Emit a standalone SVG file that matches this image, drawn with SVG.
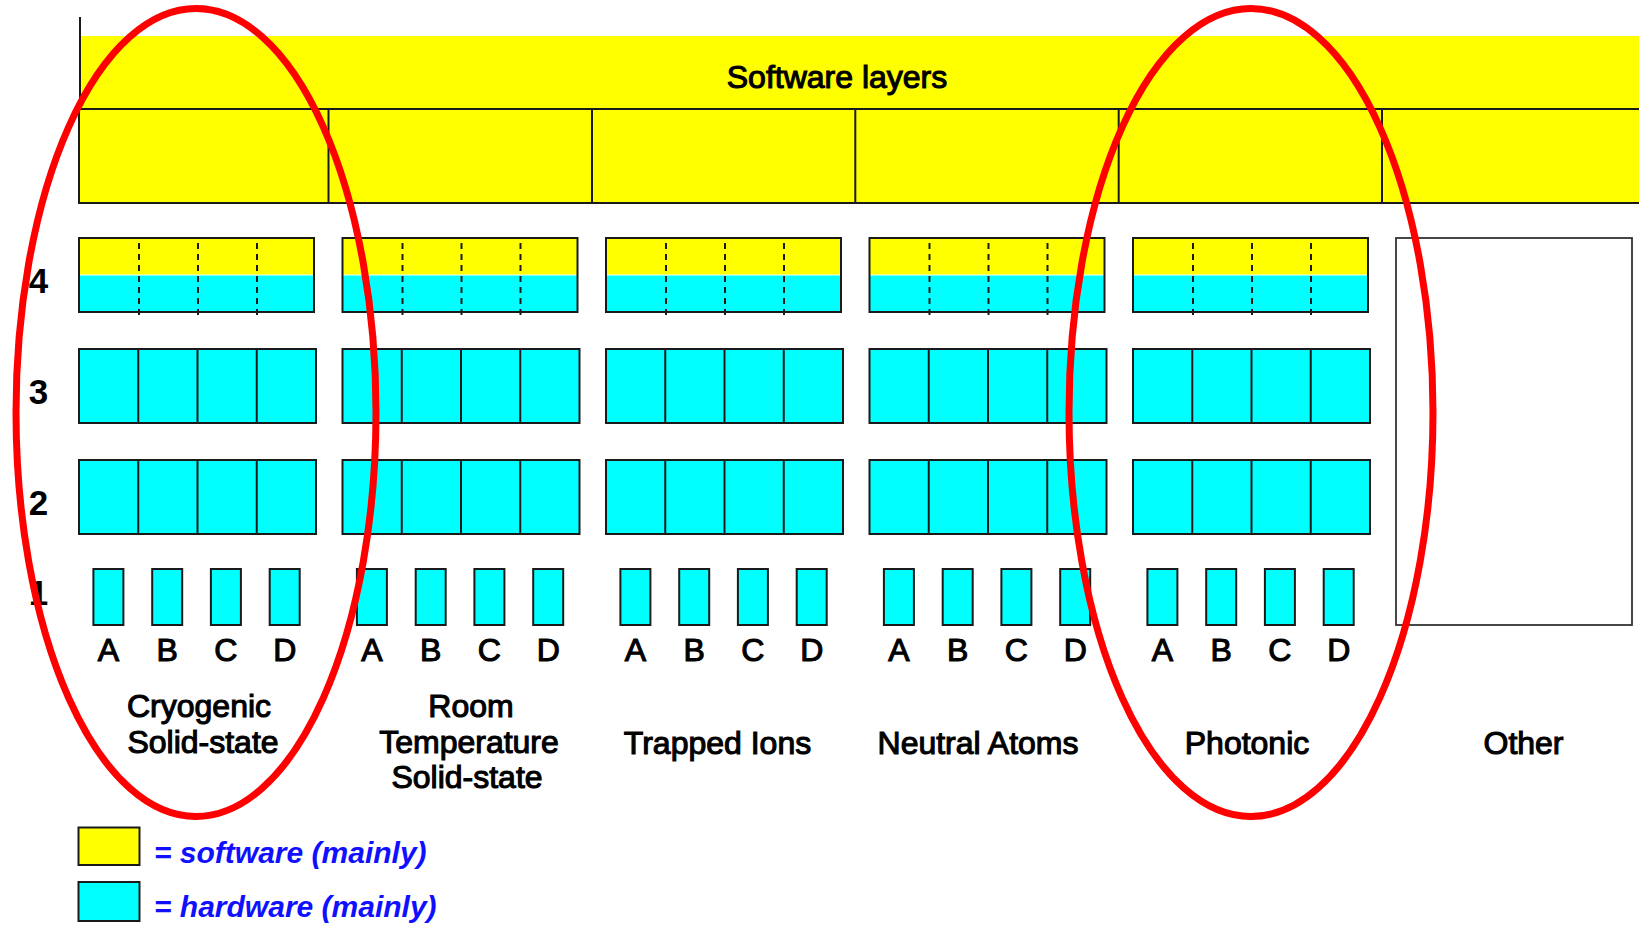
<svg xmlns="http://www.w3.org/2000/svg" width="1639" height="930" viewBox="0 0 1639 930">
<defs>
<style>
.sw{fill:#ffff00}
.hw{fill:#00ffff}
.bd{fill:none;stroke:#1a1a1a;stroke-width:2}
.ln{stroke:#1a1a1a;stroke-width:2;fill:none}
.dash{stroke:#1a1a1a;stroke-width:2;stroke-dasharray:6 5;fill:none}
.hbox{fill:#00ffff;stroke:#1a1a1a;stroke-width:2}
.t{font-family:"Liberation Sans",Arial,sans-serif;font-size:32px;fill:#000;stroke:#000;stroke-width:1.1;text-anchor:middle}
.num{font-family:"Liberation Sans",Arial,sans-serif;font-size:35px;font-weight:bold;fill:#000;text-anchor:middle}
.leg{font-family:"Liberation Sans",Arial,sans-serif;font-size:30px;font-weight:bold;font-style:italic;fill:#1010ff}
.ring{fill:none;stroke:#ff0000;stroke-width:7}
</style>
</defs>
<rect width="1639" height="930" fill="#ffffff"/>

<g id="software-layers">
<rect class="sw" x="80" y="36" width="1570" height="73"/>
<line class="ln" x1="80" y1="17" x2="80" y2="109"/>
<rect class="sw" x="79" y="109" width="1580" height="94"/>
<rect class="bd" x="79" y="109" width="1580" height="94"/>
<line class="ln" x1="328.5" y1="109" x2="328.5" y2="203"/>
<line class="ln" x1="592" y1="109" x2="592" y2="203"/>
<line class="ln" x1="855.3" y1="109" x2="855.3" y2="203"/>
<line class="ln" x1="1118.7" y1="109" x2="1118.7" y2="203"/>
<line class="ln" x1="1382" y1="109" x2="1382" y2="203"/>
<text class="t" x="837" y="88">Software layers</text>
</g>

<g id="layer-numbers">
<text class="num" x="38.5" y="293">4</text>
<text class="num" x="38.5" y="404">3</text>
<text class="num" x="38.5" y="515">2</text>
<text class="num" x="38.5" y="605">1</text>
</g>

<g id="cryogenic">
<rect class="sw" x="79" y="238" width="235" height="36.5"/>
<rect class="hw" x="79" y="275.5" width="235" height="36.5"/>
<rect class="bd" x="79" y="238" width="235" height="74"/>
<line class="dash" x1="139" y1="243" x2="139" y2="315"/>
<line class="dash" x1="198" y1="243" x2="198" y2="315"/>
<line class="dash" x1="257" y1="243" x2="257" y2="315"/>
<rect class="hbox" x="79" y="349" width="237" height="74"/>
<line class="ln" x1="138.25" y1="349" x2="138.25" y2="423"/>
<line class="ln" x1="197.5" y1="349" x2="197.5" y2="423"/>
<line class="ln" x1="256.75" y1="349" x2="256.75" y2="423"/>
<rect class="hbox" x="79" y="460" width="237" height="74"/>
<line class="ln" x1="138.25" y1="460" x2="138.25" y2="534"/>
<line class="ln" x1="197.5" y1="460" x2="197.5" y2="534"/>
<line class="ln" x1="256.75" y1="460" x2="256.75" y2="534"/>
<rect class="hbox" x="93.4" y="569" width="30" height="56"/>
<rect class="hbox" x="152.2" y="569" width="30" height="56"/>
<rect class="hbox" x="210.9" y="569" width="30" height="56"/>
<rect class="hbox" x="269.7" y="569" width="30" height="56"/>
<text class="t" x="108.4" y="661">A</text>
<text class="t" x="167.2" y="661">B</text>
<text class="t" x="225.9" y="661">C</text>
<text class="t" x="284.7" y="661">D</text>
<text class="t" x="199" y="717">Cryogenic</text>
<text class="t" x="203" y="753">Solid-state</text>
</g>

<g id="room-temperature">
<rect class="sw" x="342.5" y="238" width="235" height="36.5"/>
<rect class="hw" x="342.5" y="275.5" width="235" height="36.5"/>
<rect class="bd" x="342.5" y="238" width="235" height="74"/>
<line class="dash" x1="402.5" y1="243" x2="402.5" y2="315"/>
<line class="dash" x1="461.5" y1="243" x2="461.5" y2="315"/>
<line class="dash" x1="520.5" y1="243" x2="520.5" y2="315"/>
<rect class="hbox" x="342.5" y="349" width="237" height="74"/>
<line class="ln" x1="401.75" y1="349" x2="401.75" y2="423"/>
<line class="ln" x1="461" y1="349" x2="461" y2="423"/>
<line class="ln" x1="520.25" y1="349" x2="520.25" y2="423"/>
<rect class="hbox" x="342.5" y="460" width="237" height="74"/>
<line class="ln" x1="401.75" y1="460" x2="401.75" y2="534"/>
<line class="ln" x1="461" y1="460" x2="461" y2="534"/>
<line class="ln" x1="520.25" y1="460" x2="520.25" y2="534"/>
<rect class="hbox" x="356.9" y="569" width="30" height="56"/>
<rect class="hbox" x="415.7" y="569" width="30" height="56"/>
<rect class="hbox" x="474.4" y="569" width="30" height="56"/>
<rect class="hbox" x="533.2" y="569" width="30" height="56"/>
<text class="t" x="371.9" y="661">A</text>
<text class="t" x="430.7" y="661">B</text>
<text class="t" x="489.4" y="661">C</text>
<text class="t" x="548.2" y="661">D</text>
<text class="t" x="471" y="717">Room</text>
<text class="t" x="469" y="753">Temperature</text>
<text class="t" x="467" y="788">Solid-state</text>
</g>

<g id="trapped-ions">
<rect class="sw" x="606" y="238" width="235" height="36.5"/>
<rect class="hw" x="606" y="275.5" width="235" height="36.5"/>
<rect class="bd" x="606" y="238" width="235" height="74"/>
<line class="dash" x1="666" y1="243" x2="666" y2="315"/>
<line class="dash" x1="725" y1="243" x2="725" y2="315"/>
<line class="dash" x1="784" y1="243" x2="784" y2="315"/>
<rect class="hbox" x="606" y="349" width="237" height="74"/>
<line class="ln" x1="665.25" y1="349" x2="665.25" y2="423"/>
<line class="ln" x1="724.5" y1="349" x2="724.5" y2="423"/>
<line class="ln" x1="783.75" y1="349" x2="783.75" y2="423"/>
<rect class="hbox" x="606" y="460" width="237" height="74"/>
<line class="ln" x1="665.25" y1="460" x2="665.25" y2="534"/>
<line class="ln" x1="724.5" y1="460" x2="724.5" y2="534"/>
<line class="ln" x1="783.75" y1="460" x2="783.75" y2="534"/>
<rect class="hbox" x="620.4" y="569" width="30" height="56"/>
<rect class="hbox" x="679.2" y="569" width="30" height="56"/>
<rect class="hbox" x="737.9" y="569" width="30" height="56"/>
<rect class="hbox" x="796.7" y="569" width="30" height="56"/>
<text class="t" x="635.4" y="661">A</text>
<text class="t" x="694.2" y="661">B</text>
<text class="t" x="752.9" y="661">C</text>
<text class="t" x="811.7" y="661">D</text>
<text class="t" x="717.5" y="754">Trapped Ions</text>
</g>

<g id="neutral-atoms">
<rect class="sw" x="869.5" y="238" width="235" height="36.5"/>
<rect class="hw" x="869.5" y="275.5" width="235" height="36.5"/>
<rect class="bd" x="869.5" y="238" width="235" height="74"/>
<line class="dash" x1="929.5" y1="243" x2="929.5" y2="315"/>
<line class="dash" x1="988.5" y1="243" x2="988.5" y2="315"/>
<line class="dash" x1="1047.5" y1="243" x2="1047.5" y2="315"/>
<rect class="hbox" x="869.5" y="349" width="237" height="74"/>
<line class="ln" x1="928.75" y1="349" x2="928.75" y2="423"/>
<line class="ln" x1="988" y1="349" x2="988" y2="423"/>
<line class="ln" x1="1047.25" y1="349" x2="1047.25" y2="423"/>
<rect class="hbox" x="869.5" y="460" width="237" height="74"/>
<line class="ln" x1="928.75" y1="460" x2="928.75" y2="534"/>
<line class="ln" x1="988" y1="460" x2="988" y2="534"/>
<line class="ln" x1="1047.25" y1="460" x2="1047.25" y2="534"/>
<rect class="hbox" x="883.9" y="569" width="30" height="56"/>
<rect class="hbox" x="942.7" y="569" width="30" height="56"/>
<rect class="hbox" x="1001.4" y="569" width="30" height="56"/>
<rect class="hbox" x="1060.2" y="569" width="30" height="56"/>
<text class="t" x="898.9" y="661">A</text>
<text class="t" x="957.7" y="661">B</text>
<text class="t" x="1016.4" y="661">C</text>
<text class="t" x="1075.2" y="661">D</text>
<text class="t" x="978" y="754">Neutral Atoms</text>
</g>

<g id="photonic">
<rect class="sw" x="1133" y="238" width="235" height="36.5"/>
<rect class="hw" x="1133" y="275.5" width="235" height="36.5"/>
<rect class="bd" x="1133" y="238" width="235" height="74"/>
<line class="dash" x1="1193" y1="243" x2="1193" y2="315"/>
<line class="dash" x1="1252" y1="243" x2="1252" y2="315"/>
<line class="dash" x1="1311" y1="243" x2="1311" y2="315"/>
<rect class="hbox" x="1133" y="349" width="237" height="74"/>
<line class="ln" x1="1192.25" y1="349" x2="1192.25" y2="423"/>
<line class="ln" x1="1251.5" y1="349" x2="1251.5" y2="423"/>
<line class="ln" x1="1310.75" y1="349" x2="1310.75" y2="423"/>
<rect class="hbox" x="1133" y="460" width="237" height="74"/>
<line class="ln" x1="1192.25" y1="460" x2="1192.25" y2="534"/>
<line class="ln" x1="1251.5" y1="460" x2="1251.5" y2="534"/>
<line class="ln" x1="1310.75" y1="460" x2="1310.75" y2="534"/>
<rect class="hbox" x="1147.4" y="569" width="30" height="56"/>
<rect class="hbox" x="1206.2" y="569" width="30" height="56"/>
<rect class="hbox" x="1264.9" y="569" width="30" height="56"/>
<rect class="hbox" x="1323.7" y="569" width="30" height="56"/>
<text class="t" x="1162.4" y="661">A</text>
<text class="t" x="1221.2" y="661">B</text>
<text class="t" x="1279.9" y="661">C</text>
<text class="t" x="1338.7" y="661">D</text>
<text class="t" x="1247" y="754">Photonic</text>
</g>

<g id="other">
<rect x="1396" y="238" width="236" height="387" fill="#ffffff" stroke="#333333" stroke-width="1.8"/>
<text class="t" x="1523.5" y="754">Other</text>
</g>

<g id="legend">
<rect x="78.5" y="827.5" width="61" height="37.5" fill="#ffff00" stroke="#1a1a1a" stroke-width="2"/>
<text class="leg" x="154" y="863">= software (mainly)</text>
<rect x="78.5" y="882" width="61" height="39" fill="#00ffff" stroke="#1a1a1a" stroke-width="2"/>
<text class="leg" x="154" y="917">= hardware (mainly)</text>
</g>

<g id="highlights">
<ellipse id="ring-cryogenic" class="ring" cx="196" cy="412.5" rx="180" ry="404"/>
<ellipse id="ring-photonic" class="ring" cx="1251" cy="412.5" rx="182" ry="404"/>
</g>

<g id="connectors"/>
</svg>
